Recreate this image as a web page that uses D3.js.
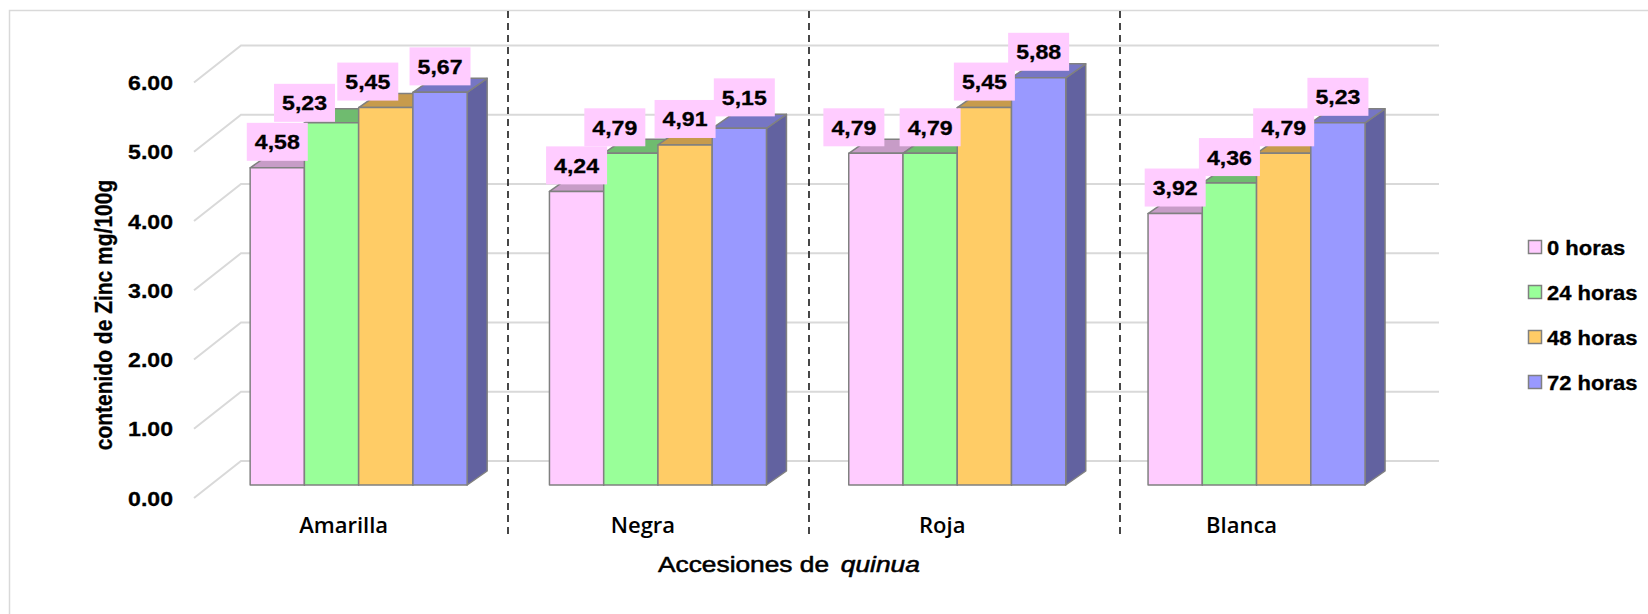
<!DOCTYPE html>
<html>
<head>
<meta charset="utf-8">
<script src="https://cdn.jsdelivr.net/npm/d3@7"></script>
<style>
  body { margin: 0; background: #ffffff; }
  svg { display: block; }
</style>
</head>
<body>
<svg id="chart" width="1648" height="614"></svg>
<script>
// Zinc content (mg/100g) of quinoa accessions after germination time
const categories = ["Amarilla", "Negra", "Roja", "Blanca"];
const seriesNames = ["0 horas", "24 horas", "48 horas", "72 horas"];
const horas0  = [4.58, 4.24, 4.79, 3.92];
const horas24 = [5.23, 4.79, 4.79, 4.36];
const horas48 = [5.45, 4.91, 5.45, 4.79];
const horas72 = [5.67, 5.15, 5.88, 5.23];
const yTicks = [0, 1, 2, 3, 4, 5, 6];
const yTickLabels = ["0.00", "1.00", "2.00", "3.00", "4.00", "5.00", "6.00"];

const seriesValues = [horas0, horas24, horas48, horas72];

// Styling
const frontColors = ["#FFCCFF", "#99FF99", "#FFCC66", "#9999FF"];
const topColors   = ["#C79CC7", "#6FBB6F", "#C79B4C", "#7676C4"];
const sideColors  = ["#A680A6", "#5C9C5C", "#A6803F", "#6262A0"];
const edge = "#808080";
const gridColor = "#D9D9D9";
const numFont = "'Liberation Sans', Arial, Helvetica, sans-serif";
const catFont = "'Open Sans', 'Liberation Sans', sans-serif";
const sx = 1.1; // horizontal text stretch

// Oblique 3D layout
const depth = { dx: 20, dy: -14 };          // bar depth
const frontBase = { x: 194, y: 498 };       // front edge of the side wall
const backBase  = { x: 241, y: 461 };       // back wall origin
const backRight = 1439;
const barBase = 485;
const separatorsX = [508, 809, 1120];

// Manual nudges of crowded data labels [dx, dy]
const labelNudge = {
  "Amarilla|24 horas": [-27, 6],
  "Amarilla|48 horas": [-18, 0],
  "Negra|24 horas": [-16, 0],
  "Negra|72 horas": [5, -5],
  "Roja|0 horas": [-22, 0]
};

const svg = d3.select("#chart");

const y = d3.scaleLinear().domain([0, 6]).range([0, -415.5]);
const x0 = d3.scaleBand().domain(categories)
  .range([209, 1406.2]).paddingInner(0.275).paddingOuter(0.1375);
const x1 = d3.scaleBand().domain(seriesNames).range([0, x0.bandwidth()]);

// Outer chart frame
svg.append("rect")
  .attr("x", 9.5).attr("y", 10.5).attr("width", 1700).attr("height", 700)
  .attr("fill", "none").attr("stroke", gridColor).attr("stroke-width", 1.5);

// Back wall and side wall gridlines
const grid = svg.append("g").attr("stroke", gridColor).attr("stroke-width", 2).attr("fill", "none");
grid.selectAll("path.g").data(yTicks).join("path")
  .attr("class", "g")
  .attr("d", v => `M${frontBase.x},${frontBase.y + y(v)}L${backBase.x},${backBase.y + y(v)}L${backRight},${backBase.y + y(v)}`);

// Y tick labels
svg.append("g").selectAll("text").data(yTicks).join("text")
  .attr("transform", v => `translate(173,${frontBase.y + y(v) + 7.5}) scale(${sx},1)`)
  .attr("text-anchor", "end")
  .attr("font-family", numFont).attr("font-weight", "bold").attr("font-size", 21)
  .attr("fill", "#000").attr("stroke", "#000").attr("stroke-width", 0.3)
  .text((v, i) => yTickLabels[i]);

// Bars
const bars = [];
categories.forEach((cat, ci) => {
  seriesNames.forEach((s, si) => {
    bars.push({ cat, s, si, v: seriesValues[si][ci] });
  });
});

const barG = svg.append("g").attr("stroke", edge).attr("stroke-width", 1.5).attr("stroke-linejoin", "round");
bars.forEach(b => {
  const x = x0(b.cat) + x1(b.s);
  const w = x1.bandwidth();
  const yt = barBase + y(b.v);
  const yb = barBase;
  const g = barG.append("g");
  g.append("path")
    .attr("fill", sideColors[b.si])
    .attr("d", `M${x + w},${yt}L${x + w + depth.dx},${yt + depth.dy}L${x + w + depth.dx},${yb + depth.dy}L${x + w},${yb}Z`);
  g.append("path")
    .attr("fill", topColors[b.si])
    .attr("d", `M${x},${yt}L${x + depth.dx},${yt + depth.dy}L${x + w + depth.dx},${yt + depth.dy}L${x + w},${yt}Z`);
  g.append("rect")
    .attr("x", x).attr("y", yt).attr("width", w).attr("height", yb - yt)
    .attr("fill", frontColors[b.si]);
});

// Dashed separators between accessions
svg.append("g").selectAll("line").data(separatorsX).join("line")
  .attr("x1", d => d).attr("x2", d => d)
  .attr("y1", 11).attr("y2", 538)
  .attr("stroke", "#1a1a1a").attr("stroke-width", 1.6)
  .attr("stroke-dasharray", "7,5");

// Data labels
const fmt = v => d3.format(".2f")(v).replace(".", ",");
const boxW = 61, boxH = 38;
const lab = svg.append("g");
bars.forEach(b => {
  const nudge = labelNudge[`${b.cat}|${b.s}`] || [0, 0];
  const cx = x0(b.cat) + x1(b.s) + x1.bandwidth() / 2 + nudge[0];
  const bottom = barBase + y(b.v) - 7 + nudge[1];
  lab.append("rect")
    .attr("x", cx - boxW / 2).attr("y", bottom - boxH)
    .attr("width", boxW).attr("height", boxH)
    .attr("fill", "#FFCCFF");
  lab.append("text")
    .attr("transform", `translate(${cx},${bottom - boxH / 2 + 7.5}) scale(${sx},1)`)
    .attr("text-anchor", "middle")
    .attr("font-family", numFont).attr("font-weight", "bold").attr("font-size", 21)
    .attr("fill", "#000").attr("stroke", "#000").attr("stroke-width", 0.3)
    .text(fmt(b.v));
});

// Category labels
svg.append("g").selectAll("text").data(categories).join("text")
  .attr("x", d => x0(d) + x0.bandwidth() / 2 - 15)
  .attr("y", 533)
  .attr("text-anchor", "middle")
  .attr("font-family", catFont).attr("font-weight", 600).attr("font-size", 22)
  .attr("fill", "#000")
  .text(d => d);

// Axis titles
svg.append("text")
  .attr("transform", `translate(112,315) scale(${sx},1) rotate(-90)`)
  .attr("text-anchor", "middle")
  .attr("font-family", numFont).attr("font-weight", "bold").attr("font-size", 21)
  .attr("fill", "#000").attr("stroke", "#000").attr("stroke-width", 0.3)
  .text("contenido de Zinc mg/100g");

const xt = svg.append("text")
  .attr("transform", `translate(658,572) scale(1.17,1)`)
  .attr("font-family", numFont).attr("font-size", 22.5)
  .attr("fill", "#000").attr("stroke", "#000").attr("stroke-width", 0.55)
  .attr("stroke-linejoin", "round");
xt.append("tspan").text("Accesiones de");
xt.append("tspan").attr("dx", 10).attr("font-style", "italic").text("quinua");

// Legend
const legY = d3.scalePoint().domain(seriesNames).range([247, 382]);
const leg = svg.append("g");
seriesNames.forEach((s, i) => {
  leg.append("rect")
    .attr("x", 1528.5).attr("y", legY(s) - 6.5).attr("width", 13).attr("height", 13)
    .attr("fill", frontColors[i]).attr("stroke", edge).attr("stroke-width", 1.5);
  leg.append("text")
    .attr("transform", `translate(1547,${legY(s) + 7.5}) scale(${sx},1)`)
    .attr("font-family", numFont).attr("font-weight", "bold").attr("font-size", 20)
    .attr("fill", "#000").attr("stroke", "#000").attr("stroke-width", 0.3)
    .text(s);
});
</script>
</body>
</html>
